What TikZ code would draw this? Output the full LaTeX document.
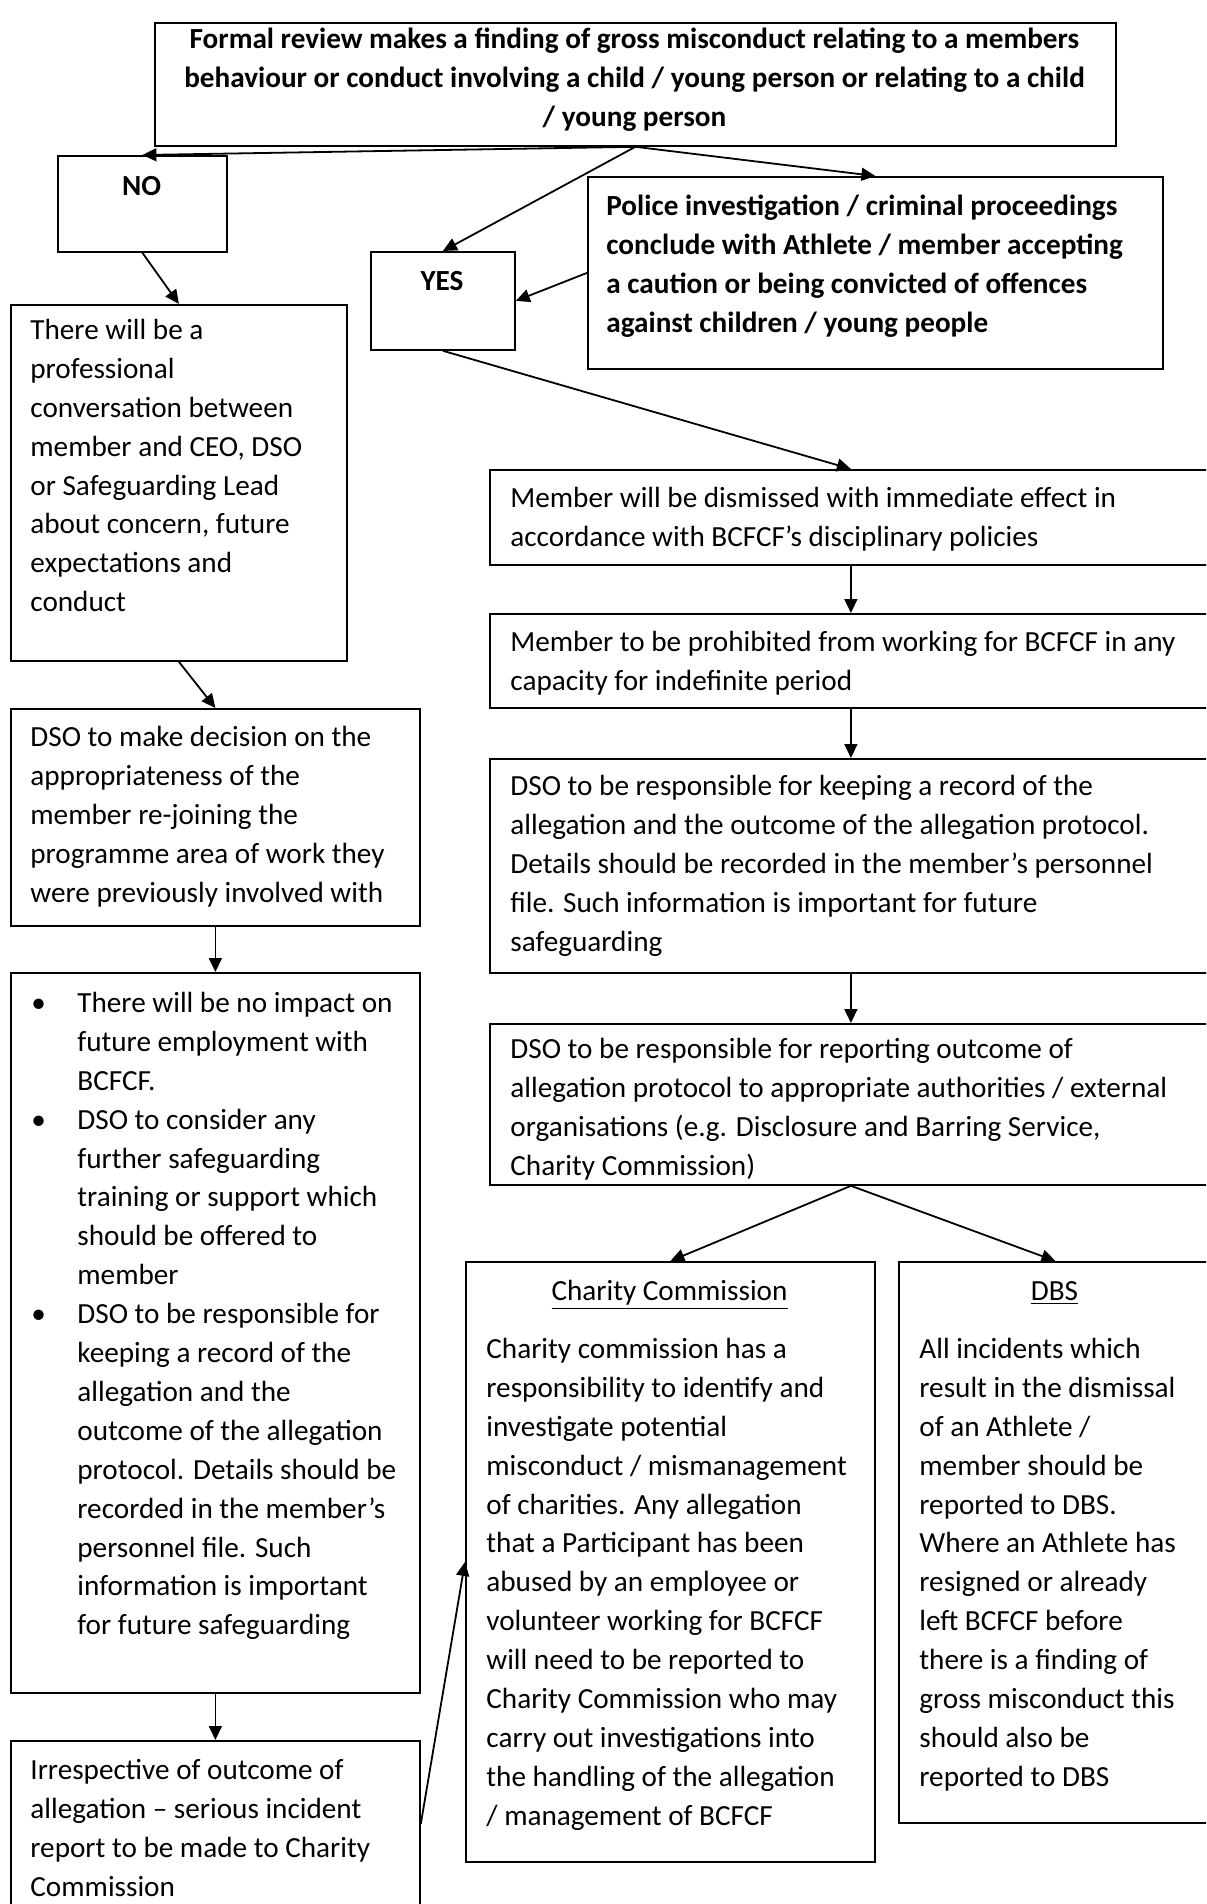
\documentclass[tikz,border=0pt]{standalone}
\usepackage{fontspec}
\setmainfont{Carlito}
\usetikzlibrary{arrows.meta}

% strut that fixes the first baseline of every text block
\newcommand{\lnstrut}{\rule{0pt}{12pt}}

\begin{document}
\begin{tikzpicture}[x=0.5pt, y=-0.5pt,
	box/.style={draw, line width=0.9pt, anchor=north west, inner sep=0pt},
	txt/.style={inner sep=0pt, anchor=north west, align=left, font=\fontsize{14.6}{19.45}\selectfont},
	boldtxt/.style={txt, font=\fontsize{14.6}{19.45}\selectfont\bfseries},
	flow/.style={-{Triangle[length=7pt, width=6.5pt]}, line width=0.9pt}]

	\useasboundingbox (0, 0) rectangle (1206, 1904);
	\clip (0, 0) rectangle (1206, 1904);

	% boxes
	\node[box, minimum width=480.5pt, minimum height=61.5pt] (review) at (154, 22) {};
	\node[box, minimum width=84.5pt, minimum height=48pt] (no) at (57, 155) {};
	\node[box, minimum width=72pt, minimum height=49pt] (yes) at (370, 251) {};
	\node[box, minimum width=287.5pt, minimum height=96pt] (police) at (587, 176) {};

	\node[box, minimum width=168pt, minimum height=178pt] (talk) at (10, 304) {};
	\node[box, minimum width=204.5pt, minimum height=108.5pt] (decision) at (10, 708) {};
	\node[box, minimum width=204.5pt, minimum height=360pt] (impact) at (10, 972) {};
	\node[box, minimum width=204.5pt, minimum height=83pt] (incident) at (10, 1740) {};

	\node[box, minimum width=361pt, minimum height=47.5pt] (dismiss) at (489, 469) {};
	\node[box, minimum width=361pt, minimum height=47pt] (prohibit) at (489, 613) {};
	\node[box, minimum width=361pt, minimum height=107pt] (record) at (489, 758) {};
	\node[box, minimum width=361pt, minimum height=80.5pt] (report) at (489, 1023) {};

	\node[box, minimum width=204.5pt, minimum height=300pt] (charity) at (465, 1261) {};
	\node[box, minimum width=156.5pt, minimum height=280.5pt] (dbs) at (898, 1261) {};

	% texts
	\node[boldtxt, anchor=north, align=center] (reviewtxt) at (634.5, 24) {\lnstrut Formal review makes a finding of gross misconduct relating to a members\\behaviour or conduct involving a child / young person or relating to a child\\/ young person};
	\node[boldtxt, anchor=north] (notxt) at (141.5, 171) {\lnstrut NO};
	\node[boldtxt, anchor=north] (yestxt) at (442, 266) {\lnstrut YES};
	\node[boldtxt] (policetxt) at (606, 191) {\lnstrut Police investigation / criminal proceedings\\conclude with Athlete / member accepting\\a caution or being convicted of offences\\against children / young people};

	\node[txt] (talktxt) at (30, 315) {\lnstrut There will be a\\professional\\conversation between\\member and CEO, DSO\\or Safeguarding Lead\\about concern, future\\expectations and\\conduct};
	\node[txt] (decisiontxt) at (30, 722) {\lnstrut DSO to make decision on the\\appropriateness of the\\member re-joining the\\programme area of work they\\were previously involved with};
	\node[txt] (impacttxt) at (31, 988) {\lnstrut\makebox[23pt][l]{\textbullet}There will be no impact on\\\hspace*{23pt}future employment with\\\hspace*{23pt}BCFCF.\\
		\makebox[23pt][l]{\textbullet}DSO to consider any\\\hspace*{23pt}further safeguarding\\\hspace*{23pt}training or support which\\\hspace*{23pt}should be offered to\\\hspace*{23pt}member\\
		\makebox[23pt][l]{\textbullet}DSO to be responsible for\\\hspace*{23pt}keeping a record of the\\\hspace*{23pt}allegation and the\\\hspace*{23pt}outcome of the allegation\\\hspace*{23pt}protocol. Details should be\\\hspace*{23pt}recorded in the member’s\\\hspace*{23pt}personnel file. Such\\\hspace*{23pt}information is important\\\hspace*{23pt}for future safeguarding};
	\node[txt] (incidenttxt) at (30, 1755) {\lnstrut Irrespective of outcome of\\allegation – serious incident\\report to be made to Charity\\Commission};

	\node[txt] (dismisstxt) at (510, 483) {\lnstrut Member will be dismissed with immediate effect in\\accordance with BCFCF’s disciplinary policies};
	\node[txt] (prohibittxt) at (510, 627) {\lnstrut Member to be prohibited from working for BCFCF in any\\capacity for indefinite period};
	\node[txt] (recordtxt) at (510, 771) {\lnstrut DSO to be responsible for keeping a record of the\\allegation and the outcome of the allegation protocol.\\Details should be recorded in the member’s personnel\\file. Such information is important for future\\safeguarding};
	\node[txt] (reporttxt) at (510, 1034) {\lnstrut DSO to be responsible for reporting outcome of\\allegation protocol to appropriate authorities / external\\organisations (e.g. Disclosure and Barring Service,\\Charity Commission)};

	\node[txt, anchor=north] (charitytitle) at (669.5, 1276) {\lnstrut\underline{Charity Commission}};
	\node[txt] (charitytxt) at (486, 1334) {\lnstrut Charity commission has a\\responsibility to identify and\\investigate potential\\misconduct / mismanagement\\of charities. Any allegation\\that a Participant has been\\abused by an employee or\\volunteer working for BCFCF\\will need to be reported to\\Charity Commission who may\\carry out investigations into\\the handling of the allegation\\/ management of BCFCF};
	\node[txt, anchor=north] (dbstitle) at (1054.5, 1276) {\lnstrut\underline{DBS}};
	\node[txt] (dbstxt) at (919, 1334) {\lnstrut All incidents which\\result in the dismissal\\of an Athlete /\\member should be\\reported to DBS.\\Where an Athlete has\\resigned or already\\left BCFCF before\\there is a finding of\\gross misconduct this\\should also be\\reported to DBS};

	% connectors
	\draw[flow] (review.south) to (no.north);
	\draw[flow] (review.south) to (yes.north);
	\draw[flow] (review.south) to (police.north);
	\draw[flow] (police.west) to (yes.east);
	\draw[flow] (yes.south) to (dismiss.north);

	\draw[flow] (no.south) to (talk.north);
	\draw[flow] (talk.south) to (decision.north);
	\draw[flow] (decision.south) to (impact.north);
	\draw[flow] (impact.south) to (incident.north);
	\draw[flow] (incident.east) to (charity.west);

	\draw[flow] (dismiss.south) to (prohibit.north);
	\draw[flow] (prohibit.south) to (record.north);
	\draw[flow] (record.south) to (report.north);
	\draw[flow] (report.south) to (charity.north);
	\draw[flow] (report.south) to (dbs.north);
\end{tikzpicture}
\end{document}
